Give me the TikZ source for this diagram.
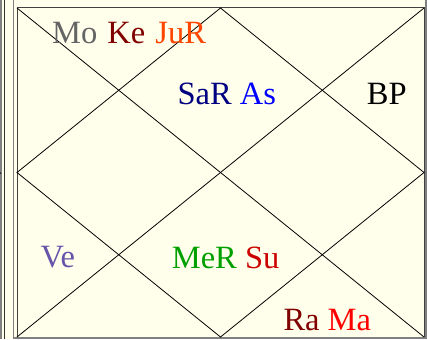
\documentclass[tikz,border=0pt]{standalone}
\usepackage{fontspec}
\setmainfont{Liberation Serif}
\definecolor{chartbg}{RGB}{255,255,236}
\definecolor{cellgray}{RGB}{128,128,128}
\definecolor{moon}{RGB}{100,100,100}
\definecolor{ketu}{RGB}{128,0,0}
\definecolor{jupiter}{RGB}{255,69,0}
\definecolor{saturn}{RGB}{0,0,128}
\definecolor{asc}{RGB}{0,0,255}
\definecolor{venus}{RGB}{102,85,170}
\definecolor{mercury}{RGB}{0,160,0}
\definecolor{sun}{RGB}{204,0,0}
\definecolor{rahu}{RGB}{128,0,0}
\definecolor{mars}{RGB}{255,0,0}

\begin{document}
\begin{tikzpicture}[x=1pt, y=-1pt,
    planet/.style={inner sep=0pt, anchor=base west,
                   font=\fontsize{32.5}{38}\selectfont}]
    \useasboundingbox (0,0) rectangle (427,339);
    \fill[chartbg] (0,0) rectangle (427,339);

    % edge of the neighbouring chart
    \draw[cellgray, line width=1.5pt] (0.8,0) -- (0.8,339);
    \draw[black!80, line width=1pt] (4,0) -- (4,339);
    \fill (0,173) circle[radius=1];

    % cell border and chart frame
    \draw[cellgray, line width=1.5pt] (13.5,0) -- (13.5,338.2) -- (426,338.2) -- (426,0);
    \draw[black!75, line width=1pt] (17,337) -- (17,8) -- (424,8) -- (424,337);

    % houses
    \begin{scope}[line width=0.8pt]
      \draw (17,8) -- (424,337);
      \draw (424,8) -- (17,337);
      \draw (220.5,8) -- (424,172.5) -- (220.5,337) -- (17,172.5) -- cycle;
    \end{scope}

    % planets
    \node[planet] (h12) at (52,43.3)
      {\textcolor{moon}{Mo}\hspace{2pt} \textcolor{ketu}{Ke}\hspace{2pt} \textcolor{jupiter}{JuR}};
    \node[planet] (h1) at (177.3,105)
      {\textcolor{saturn}{SaR} \textcolor{asc}{As}};
    \node[planet] (h11) at (366.7,105) {BP};
    \node[planet] (h3) at (40.5,267.7) {\textcolor{venus}{Ve}};
    \node[planet] (h4) at (171.7,268)
      {\textcolor{mercury}{MeR} \textcolor{sun}{Su}};
    \node[planet] (h5) at (283.3,330)
      {\textcolor{rahu}{Ra} \textcolor{mars}{Ma}};
\end{tikzpicture}
\end{document}
